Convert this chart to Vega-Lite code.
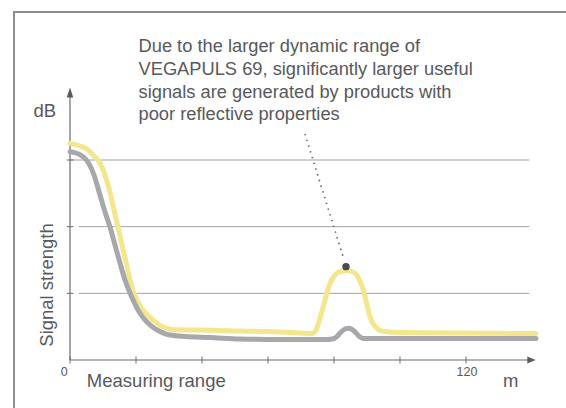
{
  "$schema": "https://vega.github.io/schema/vega-lite/v6.json",
  "width": 560,
  "height": 400,
  "autosize": "none",
  "padding": {"left": 14, "top": 12, "right": 0, "bottom": 0},
  "background": "white",
  "config": {
    "view": {"stroke": "#8e8e8e", "strokeWidth": 2},
    "text": {"font": "Liberation Sans", "color": "#58595b"}
  },
  "datasets": {
    "curves": [
      {"s": "yellow", "x": 0, "y": 3.25}, {"s": "yellow", "x": 3.03, "y": 3.21}, {"s": "yellow", "x": 5.45, "y": 3.15},
      {"s": "yellow", "x": 7.27, "y": 3.06}, {"s": "yellow", "x": 9.09, "y": 2.955}, {"s": "yellow", "x": 10.61, "y": 2.775},
      {"s": "yellow", "x": 12.12, "y": 2.52}, {"s": "yellow", "x": 13.33, "y": 2.25}, {"s": "yellow", "x": 14.55, "y": 1.995},
      {"s": "yellow", "x": 15.76, "y": 1.725}, {"s": "yellow", "x": 16.97, "y": 1.47}, {"s": "yellow", "x": 18.18, "y": 1.2},
      {"s": "yellow", "x": 19.18, "y": 1.035}, {"s": "yellow", "x": 20.15, "y": 0.915}, {"s": "yellow", "x": 21.21, "y": 0.8175},
      {"s": "yellow", "x": 22.42, "y": 0.735}, {"s": "yellow", "x": 23.64, "y": 0.6675}, {"s": "yellow", "x": 25.15, "y": 0.6},
      {"s": "yellow", "x": 26.67, "y": 0.54}, {"s": "yellow", "x": 28.48, "y": 0.4905}, {"s": "yellow", "x": 30.3, "y": 0.462},
      {"s": "yellow", "x": 32.12, "y": 0.453},
      {"s": "yellow", "x": 39.39, "y": 0.45}, {"s": "yellow", "x": 51.52, "y": 0.435}, {"s": "yellow", "x": 63.64, "y": 0.42},
      {"s": "yellow", "x": 69.7, "y": 0.405}, {"s": "yellow", "x": 73.33, "y": 0.397}, {"s": "yellow", "x": 74.55, "y": 0.45},
      {"s": "yellow", "x": 75.76, "y": 0.63}, {"s": "yellow", "x": 76.76, "y": 0.8}, {"s": "yellow", "x": 77.73, "y": 0.99},
      {"s": "yellow", "x": 78.79, "y": 1.15}, {"s": "yellow", "x": 79.85, "y": 1.245}, {"s": "yellow", "x": 80.82, "y": 1.3},
      {"s": "yellow", "x": 82.12, "y": 1.332}, {"s": "yellow", "x": 83.85, "y": 1.342}, {"s": "yellow", "x": 85.45, "y": 1.327},
      {"s": "yellow", "x": 86.88, "y": 1.275}, {"s": "yellow", "x": 87.88, "y": 1.185}, {"s": "yellow", "x": 88.88, "y": 1.05},
      {"s": "yellow", "x": 89.85, "y": 0.855}, {"s": "yellow", "x": 90.91, "y": 0.65}, {"s": "yellow", "x": 91.97, "y": 0.532},
      {"s": "yellow", "x": 93.03, "y": 0.475}, {"s": "yellow", "x": 94.24, "y": 0.438}, {"s": "yellow", "x": 95.97, "y": 0.425},
      {"s": "yellow", "x": 100, "y": 0.412}, {"s": "yellow", "x": 115.15, "y": 0.405}, {"s": "yellow", "x": 130.3, "y": 0.4},
      {"s": "yellow", "x": 141.2, "y": 0.397},
      {"s": "gray", "x": 0, "y": 3.125}, {"s": "gray", "x": 1.82, "y": 3.105}, {"s": "gray", "x": 3.64, "y": 3.06},
      {"s": "gray", "x": 5.45, "y": 2.97}, {"s": "gray", "x": 7.27, "y": 2.775}, {"s": "gray", "x": 9.09, "y": 2.475},
      {"s": "gray", "x": 10.61, "y": 2.22}, {"s": "gray", "x": 12.12, "y": 1.995}, {"s": "gray", "x": 13.64, "y": 1.725},
      {"s": "gray", "x": 15.15, "y": 1.455}, {"s": "gray", "x": 16.67, "y": 1.2}, {"s": "gray", "x": 18.18, "y": 1.005},
      {"s": "gray", "x": 19.39, "y": 0.87}, {"s": "gray", "x": 20.61, "y": 0.75}, {"s": "gray", "x": 22.12, "y": 0.6375},
      {"s": "gray", "x": 23.64, "y": 0.555}, {"s": "gray", "x": 25.45, "y": 0.48}, {"s": "gray", "x": 27.27, "y": 0.4275},
      {"s": "gray", "x": 29.39, "y": 0.3855}, {"s": "gray", "x": 31.82, "y": 0.3645}, {"s": "gray", "x": 34.85, "y": 0.3525},
      {"s": "gray", "x": 42.42, "y": 0.337},
      {"s": "gray", "x": 51.52, "y": 0.315}, {"s": "gray", "x": 63.64, "y": 0.307}, {"s": "gray", "x": 77.27, "y": 0.307},
      {"s": "gray", "x": 79.39, "y": 0.315}, {"s": "gray", "x": 80.91, "y": 0.352}, {"s": "gray", "x": 82.12, "y": 0.42},
      {"s": "gray", "x": 83.33, "y": 0.465}, {"s": "gray", "x": 84.42, "y": 0.475}, {"s": "gray", "x": 85.45, "y": 0.46},
      {"s": "gray", "x": 86.67, "y": 0.405}, {"s": "gray", "x": 87.88, "y": 0.345}, {"s": "gray", "x": 89.09, "y": 0.322},
      {"s": "gray", "x": 93.94, "y": 0.322}, {"s": "gray", "x": 115.15, "y": 0.322}, {"s": "gray", "x": 141.2, "y": 0.322}
    ],
    "grid": [
      {"x": 0, "x2": 139.2, "y": 3},
      {"x": 2.7, "x2": 139.2, "y": 2},
      {"x": 2.7, "x2": 139.2, "y": 1}
    ],
    "axes": [
      {"x": 0, "y": 0, "x2": 139.5, "y2": 0},
      {"x": 0, "y": 0, "x2": 0, "y2": 3.95}
    ],
    "xticks": [
      {"x": 0, "y": 0}, {"x": 20, "y": 0}, {"x": 40, "y": 0}, {"x": 60, "y": 0},
      {"x": 80, "y": 0}, {"x": 100, "y": 0}, {"x": 120, "y": 0}
    ],
    "yticks": [{"x": 0, "y": 1}, {"x": 0, "y": 2}, {"x": 0, "y": 3}],
    "yarrow": [{"x": 0, "y": 4.0125}],
    "xarrow": [{"x": 139.85, "y": 0}],
    "leader": [{"x": 71.2, "y": 3.39, "x2": 82.88, "y2": 1.53}],
    "dot": [{"x": 83.64, "y": 1.4}],
    "ticklabels": [{"t": "0", "x": -1.73, "y": -0.24}, {"t": "120", "x": 120.3, "y": -0.24}],
    "titles": [
      {"t": "Measuring range", "x": 26.15, "y": -0.405},
      {"t": "m", "x": 133.58, "y": -0.4},
      {"t": "dB", "x": -7.67, "y": 3.65}
    ],
    "ytitle": [{"t": "Signal strength", "x": -5.24, "y": 1.125}],
    "note": [
      {"t": "Due to the larger dynamic range of", "x": 20.76, "y": 4.615},
      {"t": "VEGAPULS 69, significantly larger useful", "x": 20.76, "y": 4.276},
      {"t": "signals are generated by products with", "x": 20.76, "y": 3.937},
      {"t": "poor reflective properties", "x": 20.76, "y": 3.6}
    ]
  },
  "encoding": {
    "x": {"field": "x", "type": "quantitative", "scale": {"domain": [-16.97, 152.73], "nice": false, "zero": false}, "axis": null},
    "y": {"field": "y", "type": "quantitative", "scale": {"domain": [-0.78, 5.22], "nice": false, "zero": false}, "axis": null}
  },
  "layer": [
    {
      "data": {"name": "grid"},
      "mark": {"type": "rule", "color": "#a3a3a3", "strokeWidth": 1},
      "encoding": {"x2": {"field": "x2"}}
    },
    {
      "data": {"name": "axes"},
      "mark": {"type": "rule", "color": "#6b6b6b", "strokeWidth": 1.2},
      "encoding": {"x2": {"field": "x2"}, "y2": {"field": "y2"}}
    },
    {
      "data": {"name": "xticks"},
      "mark": {"type": "tick", "orient": "vertical", "size": 7, "thickness": 1, "color": "#6b6b6b", "opacity": 1}
    },
    {
      "data": {"name": "yticks"},
      "mark": {"type": "tick", "orient": "horizontal", "size": 7, "thickness": 1, "color": "#6b6b6b", "opacity": 1}
    },
    {
      "data": {"name": "yarrow"},
      "mark": {"type": "point", "shape": "M0,-1L0.65,1L-0.65,1Z", "size": 100, "filled": true, "color": "#5a5a5a", "opacity": 1, "strokeWidth": 0}
    },
    {
      "data": {"name": "xarrow"},
      "mark": {"type": "point", "shape": "M1,0L-1,-0.85L-1,0.85Z", "size": 70, "filled": true, "color": "#5a5a5a", "opacity": 1, "strokeWidth": 0}
    },
    {
      "data": {"name": "curves"},
      "transform": [{"filter": "datum.s === 'yellow'"}],
      "mark": {"type": "line", "color": "#f4e68d", "strokeWidth": 5, "interpolate": "monotone", "strokeCap": "round", "strokeJoin": "round"}
    },
    {
      "data": {"name": "curves"},
      "transform": [{"filter": "datum.s === 'gray'"}],
      "mark": {"type": "line", "color": "#a7a8ab", "strokeWidth": 5, "interpolate": "monotone", "strokeCap": "round", "strokeJoin": "round"}
    },
    {
      "data": {"name": "leader"},
      "mark": {"type": "rule", "color": "#5e5e5e", "strokeWidth": 1.6, "strokeDash": [1.4, 4.6]},
      "encoding": {"x2": {"field": "x2"}, "y2": {"field": "y2"}}
    },
    {
      "data": {"name": "dot"},
      "mark": {"type": "circle", "size": 55, "color": "#4a4a4a", "opacity": 1}
    },
    {
      "data": {"name": "ticklabels"},
      "mark": {"type": "text", "fontSize": 12.5, "align": "center", "baseline": "alphabetic"},
      "encoding": {"text": {"field": "t"}}
    },
    {
      "data": {"name": "titles"},
      "mark": {"type": "text", "fontSize": 18.5, "align": "center", "baseline": "alphabetic"},
      "encoding": {"text": {"field": "t"}}
    },
    {
      "data": {"name": "ytitle"},
      "mark": {"type": "text", "fontSize": 18.5, "align": "center", "baseline": "alphabetic", "angle": 270},
      "encoding": {"text": {"field": "t"}}
    },
    {
      "data": {"name": "note"},
      "mark": {"type": "text", "fontSize": 18.3, "align": "left", "baseline": "alphabetic"},
      "encoding": {"text": {"field": "t"}}
    }
  ]
}
